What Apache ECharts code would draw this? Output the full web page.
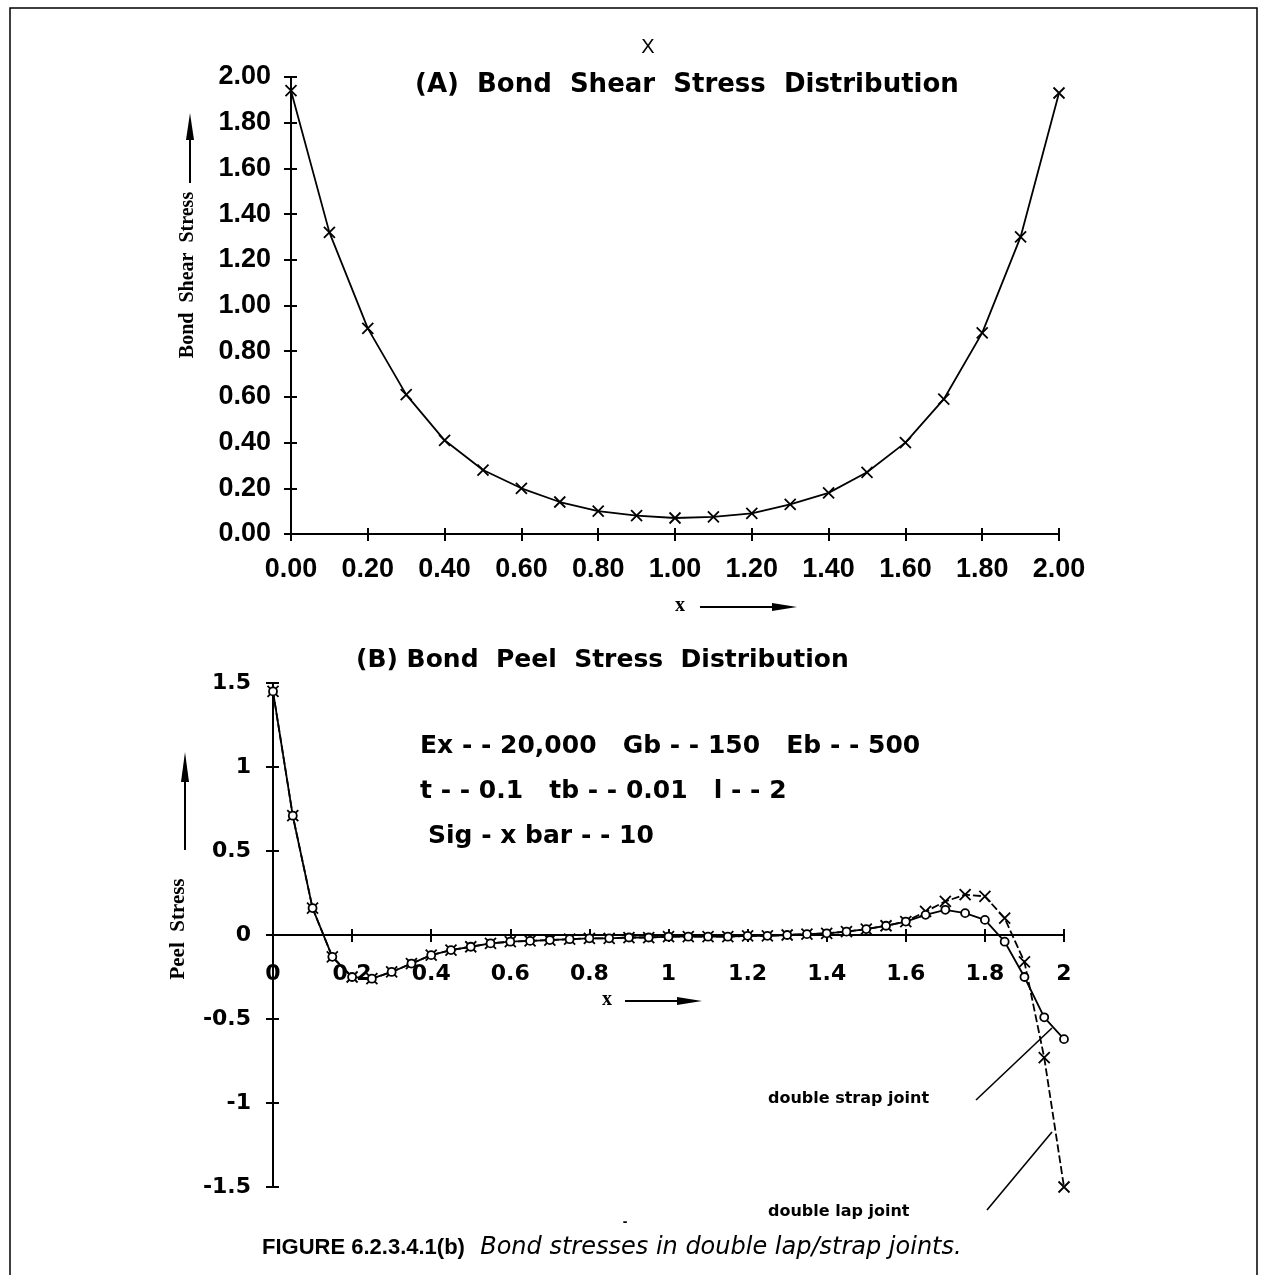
<!DOCTYPE html>
<html><head><meta charset="utf-8">
<script src="https://cdn.jsdelivr.net/npm/echarts@6/dist/echarts.min.js"></script>
<style>html,body{margin:0;padding:0;background:#fff}#c{width:1267px;height:1275px}</style>
</head><body><div id="c"></div>
<script>
// ---- Chart A: bond shear stress ----
const shearX = [0.0,0.1,0.2,0.3,0.4,0.5,0.6,0.7,0.8,0.9,1.0,1.1,1.2,1.3,1.4,1.5,1.6,1.7,1.8,1.9,2.0];
const shearY = [1.94,1.32,0.90,0.61,0.41,0.28,0.20,0.14,0.10,0.08,0.07,0.075,0.09,0.13,0.18,0.27,0.40,0.59,0.88,1.30,1.93];
const shearXTickLabels = ['0.00','0.20','0.40','0.60','0.80','1.00','1.20','1.40','1.60','1.80','2.00'];
const shearYTickLabels = ['0.00','0.20','0.40','0.60','0.80','1.00','1.20','1.40','1.60','1.80','2.00'];

// ---- Chart B: bond peel stress ----
const peelX = [0.00,0.05,0.10,0.15,0.20,0.25,0.30,0.35,0.40,0.45,0.50,0.55,0.60,0.65,0.70,0.75,0.80,0.85,0.90,0.95,1.00,
               1.05,1.10,1.15,1.20,1.25,1.30,1.35,1.40,1.45,1.50,1.55,1.60,1.65,1.70,1.75,1.80,1.85,1.90,1.95,2.00];
const strapY = [1.45,0.71,0.16,-0.13,-0.25,-0.26,-0.22,-0.17,-0.12,-0.09,-0.07,-0.05,-0.04,-0.035,-0.03,-0.025,-0.02,-0.02,-0.015,-0.015,-0.01,
                -0.01,-0.01,-0.01,-0.005,-0.005,0.0,0.005,0.01,0.02,0.035,0.055,0.08,0.12,0.15,0.13,0.09,-0.04,-0.25,-0.49,-0.62];
const lapY   = [1.45,0.71,0.16,-0.13,-0.25,-0.26,-0.22,-0.17,-0.12,-0.09,-0.07,-0.05,-0.04,-0.035,-0.03,-0.025,-0.02,-0.02,-0.015,-0.015,-0.01,
                -0.01,-0.01,-0.01,-0.005,-0.005,0.0,0.005,0.01,0.02,0.035,0.055,0.08,0.14,0.20,0.24,0.23,0.10,-0.16,-0.73,-1.50];
const peelXTickLabels = ['0','0.2','0.4','0.6','0.8','1','1.2','1.4','1.6','1.8','2'];
const peelYTickLabels = ['-1.5','-1','-0.5','0','0.5','1','1.5'];

const X_SYMBOL = 'path://M0,0L10,10M10,0L0,10';
const labFont = {color:'#000', fontFamily:'Liberation Sans', fontWeight:'bold', fontSize:27};
const labFontB = {color:'#000', fontFamily:'DejaVu Sans', fontWeight:'bold', fontSize:22};
const axLine = {show:true, lineStyle:{color:'#000', width:2}};
const PEEL_ZERO_OFFSET = -252; // moves the peel x axis up to the y = 0 line

function pairs(xs, ys){ return xs.map((x,i)=>[x, ys[i]]); }

const chart = echarts.init(document.getElementById('c'), null, {renderer:'canvas'});
const option = {
  animation:false,
  backgroundColor:'#fff',
  grid:[
    {left:291, top:77, width:768, height:457},
    {left:273, top:683, width:791, height:504}
  ],
  xAxis:[
    {gridIndex:0, type:'value', min:0, max:2, interval:0.2, position:'bottom',
     axisLine:axLine, axisTick:{show:true, length:7, lineStyle:{color:'#000', width:2}},
     axisLabel:Object.assign({margin:22, formatter:v=>shearXTickLabels[Math.round(v/0.2)]}, labFont),
     splitLine:{show:false}},
    {gridIndex:0, type:'value', min:0, max:2, interval:0.2, position:'bottom',
     axisLine:{show:false}, axisTick:{show:true, inside:true, length:6, lineStyle:{color:'#000', width:2}},
     axisLabel:{show:false}, splitLine:{show:false}},
    {gridIndex:1, type:'value', min:0, max:2, interval:0.2, position:'bottom', offset:PEEL_ZERO_OFFSET,
     axisLine:{show:true, onZero:false, lineStyle:{color:'#000', width:2}},
     axisTick:{show:true, length:7, lineStyle:{color:'#000', width:2}},
     axisLabel:Object.assign({margin:28, formatter:v=>peelXTickLabels[Math.round(v/0.2)]}, labFontB),
     splitLine:{show:false}},
    {gridIndex:1, type:'value', min:0, max:2, interval:0.2, position:'bottom', offset:PEEL_ZERO_OFFSET,
     axisLine:{show:false, onZero:false}, axisTick:{show:true, inside:true, length:6, lineStyle:{color:'#000', width:2}},
     axisLabel:{show:false}, splitLine:{show:false}}
  ],
  yAxis:[
    {gridIndex:0, type:'value', min:0, max:2, interval:0.2,
     axisLine:axLine, axisTick:{show:true, length:7, lineStyle:{color:'#000', width:2}},
     axisLabel:Object.assign({margin:20, formatter:v=>shearYTickLabels[Math.round(v/0.2)]}, labFont),
     splitLine:{show:false}},
    {gridIndex:0, type:'value', min:0, max:2, interval:0.2, position:'left',
     axisLine:{show:false}, axisTick:{show:true, inside:true, length:6, lineStyle:{color:'#000', width:2}},
     axisLabel:{show:false}, splitLine:{show:false}},
    {gridIndex:1, type:'value', min:-1.5, max:1.5, interval:0.5,
     axisLine:{show:true, onZero:false, lineStyle:{color:'#000', width:2}},
     axisTick:{show:true, length:7, lineStyle:{color:'#000', width:2}},
     axisLabel:Object.assign({margin:22, formatter:v=>peelYTickLabels[Math.round((v+1.5)/0.5)]}, labFontB),
     splitLine:{show:false}},
    {gridIndex:1, type:'value', min:-1.5, max:1.5, interval:0.5, position:'left',
     axisLine:{show:false, onZero:false}, axisTick:{show:true, inside:true, length:6, lineStyle:{color:'#000', width:2}},
     axisLabel:{show:false}, splitLine:{show:false}}
  ],
  series:[
    {name:'Bond Shear Stress', type:'line', xAxisIndex:0, yAxisIndex:0, data:pairs(shearX, shearY),
     symbol:X_SYMBOL, symbolSize:11, showAllSymbol:true,
     itemStyle:{color:'#000', borderColor:'#000', borderWidth:1.8},
     lineStyle:{color:'#000', width:1.8}},
    {name:'double lap joint', type:'line', xAxisIndex:2, yAxisIndex:2, data:pairs(peelX, lapY),
     symbol:X_SYMBOL, symbolSize:11, showAllSymbol:true,
     itemStyle:{color:'#000', borderColor:'#000', borderWidth:1.8},
     lineStyle:{color:'#000', width:1.8, type:[8,3]}},
    {name:'double strap joint', type:'line', xAxisIndex:2, yAxisIndex:2, data:pairs(peelX, strapY),
     symbol:'circle', symbolSize:8, showAllSymbol:true,
     itemStyle:{color:'#fff', borderColor:'#000', borderWidth:1.8},
     lineStyle:{color:'#000', width:1.8}}
  ],
  graphic:[
    // frame
    {type:'rect', shape:{x:10, y:8, width:1247, height:1290}, style:{fill:'none', stroke:'#000', lineWidth:1.5}, silent:true},
    // titles
    {type:'text', x:415, y:85, style:{text:'(A)  Bond  Shear  Stress  Distribution', font:'bold 26px "DejaVu Sans"', fill:'#000', textVerticalAlign:'middle'}},
    {type:'text', x:356, y:660, style:{text:'(B) Bond  Peel  Stress  Distribution', font:'bold 25px "DejaVu Sans"', fill:'#000', textVerticalAlign:'middle'}},
    {type:'text', x:648, y:47, style:{text:'X', font:'20px "Liberation Sans"', fill:'#000', textAlign:'center', textVerticalAlign:'middle'}},
    // axis names A
    {type:'text', x:188, y:275, rotation:Math.PI/2, style:{text:'Bond  Shear  Stress', font:'bold 20px "Liberation Serif"', fill:'#000', textAlign:'center', textVerticalAlign:'middle'}},
    {type:'line', shape:{x1:190, y1:183, x2:190, y2:125}, style:{stroke:'#000', lineWidth:2}},
    {type:'polygon', shape:{points:[[190,113],[186,140],[194,140]]}, style:{fill:'#000'}},
    {type:'text', x:680, y:606, style:{text:'x', font:'bold 20px "Liberation Serif"', fill:'#000', textAlign:'center', textVerticalAlign:'middle'}},
    {type:'line', shape:{x1:700, y1:607, x2:785, y2:607}, style:{stroke:'#000', lineWidth:2}},
    {type:'polygon', shape:{points:[[797,607],[772,603],[772,611]]}, style:{fill:'#000'}},
    // axis names B
    {type:'text', x:179, y:929, rotation:Math.PI/2, style:{text:'Peel  Stress', font:'bold 21px "Liberation Serif"', fill:'#000', textAlign:'center', textVerticalAlign:'middle'}},
    {type:'line', shape:{x1:185, y1:850, x2:185, y2:770}, style:{stroke:'#000', lineWidth:2}},
    {type:'polygon', shape:{points:[[185,752],[181,782],[189,782]]}, style:{fill:'#000'}},
    {type:'text', x:607, y:1000, style:{text:'x', font:'bold 20px "Liberation Serif"', fill:'#000', textAlign:'center', textVerticalAlign:'middle'}},
    {type:'line', shape:{x1:625, y1:1001, x2:690, y2:1001}, style:{stroke:'#000', lineWidth:2}},
    {type:'polygon', shape:{points:[[702,1001],[677,997],[677,1005]]}, style:{fill:'#000'}},
    // parameters
    {type:'text', x:420, y:746, style:{text:'Ex - - 20,000   Gb - - 150   Eb - - 500', font:'bold 25px "DejaVu Sans"', fill:'#000', textVerticalAlign:'middle'}},
    {type:'text', x:420, y:791, style:{text:'t - - 0.1   tb - - 0.01   l - - 2', font:'bold 25px "DejaVu Sans"', fill:'#000', textVerticalAlign:'middle'}},
    {type:'text', x:428, y:836, style:{text:'Sig - x bar - - 10', font:'bold 25px "DejaVu Sans"', fill:'#000', textVerticalAlign:'middle'}},
    // series annotations
    {type:'text', x:768, y:1099, style:{text:'double strap joint', font:'bold 16px "DejaVu Sans"', fill:'#000', textVerticalAlign:'middle'}},
    {type:'text', x:768, y:1212, style:{text:'double lap joint', font:'bold 16px "DejaVu Sans"', fill:'#000', textVerticalAlign:'middle'}},
    {type:'line', shape:{x1:976, y1:1100, x2:1052, y2:1028}, style:{stroke:'#000', lineWidth:1.6}},
    {type:'line', shape:{x1:987, y1:1210, x2:1052, y2:1132}, style:{stroke:'#000', lineWidth:1.6}},
    // caption
    {type:'text', x:262, y:1248, style:{
      rich:{b:{font:'bold 22px "Liberation Sans"', fill:'#000'}, i:{font:'italic 24px "DejaVu Sans"', fill:'#000'}},
      text:'{b|FIGURE 6.2.3.4.1(b)}{i|  Bond stresses in double lap/strap joints.}', textVerticalAlign:'middle'}},
    {type:'text', x:625, y:1222, style:{text:'-', font:'bold 14px "Liberation Sans"', fill:'#000', textAlign:'center', textVerticalAlign:'middle'}}
  ]
};
chart.setOption(option);
</script>
</body></html>
